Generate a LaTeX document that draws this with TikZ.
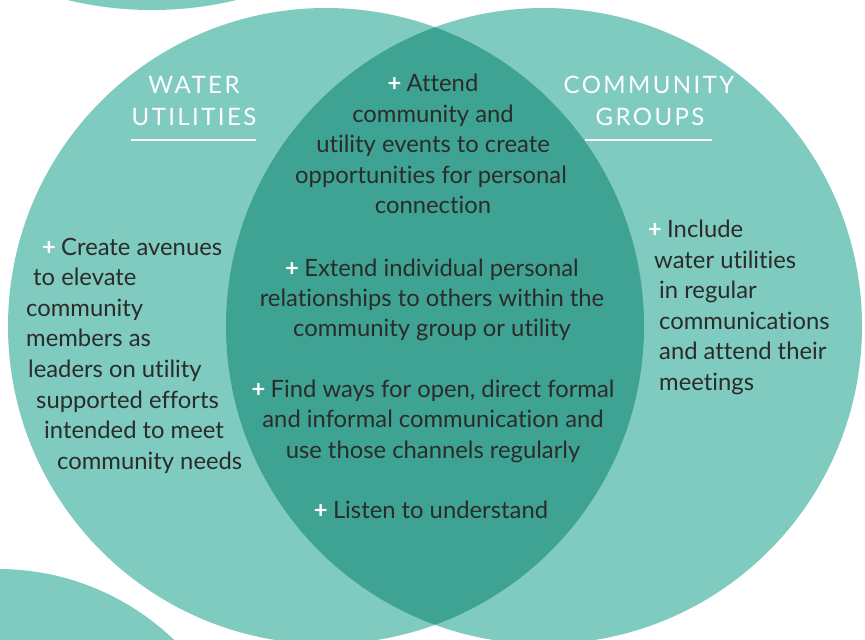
\documentclass[tikz,border=0pt]{standalone}
\usepackage{fontspec}
\setmainfont{Lato}[Ligatures=NoCommon]
\newfontfamily\titlefont[LetterSpace=10,Ligatures=NoCommon]{Lato}
\definecolor{lightteal}{HTML}{7FCBC0}
\definecolor{darkteal}{HTML}{3FA393}
\definecolor{ink}{HTML}{2B2B2A}
\tikzset{
  body/.style={inner sep=0pt, text=ink, font=\fontsize{23.8}{30}\selectfont},
  bodyc/.style={body, anchor=base},
  bodyl/.style={body, anchor=base west},
  title/.style={inner sep=0pt, anchor=base, text=white, font=\titlefont\fontsize{24}{30}\selectfont},
  rule/.style={draw=white, line width=1.6pt}
}
\newcommand{\plus}{{\color{white}\bfseries+}\hspace{0.22em}}
\begin{document}
\begin{tikzpicture}[x=1pt,y=-1pt]
\useasboundingbox (0,0) rectangle (865,640);
\begin{scope}
  \clip (0,0) rectangle (865,640);
  \fill[lightteal] (152,-350) circle[radius=360pt];
  \fill[lightteal] (-2,823) circle[radius=254pt];
  \fill[lightteal] (326,326) circle[radius=318pt];
  \fill[lightteal] (544,326) circle[radius=318pt];
  \begin{scope}
    \clip (326,326) circle[radius=318pt];
    \fill[darkteal] (544,326) circle[radius=318pt];
  \end{scope}
\end{scope}

% titles
\node[title] (wt1) at (194,93) {WATER};
\node[title] (wt2) at (194,125.5) {UTILITIES};
\coordinate (wl1) at (131,140);
\coordinate (wl2) at (256,140);
\draw[rule] (wl1) -- (wl2);
\node[title] (ct1) at (649,93) {COMMUNITY};
\node[title] (ct2) at (650,125.5) {GROUPS};
\coordinate (cl1) at (585,140);
\coordinate (cl2) at (712,140);
\draw[rule] (cl1) -- (cl2);

% centre
\node[bodyc] (a1) at (433,91) {\plus Attend};
\node[bodyc] (a2) at (433,122) {community and};
\node[bodyc] (a3) at (433,152.5) {utility events to create};
\node[bodyc] (a4) at (431,183) {opportunities for personal};
\node[bodyc] (a5) at (433,213.5) {connection};

\node[bodyc] (b1) at (432,276) {\plus Extend individual personal};
\node[bodyc] (b2) at (432,306) {relationships to others within the};
\node[bodyc] (b3) at (432,336.5) {community group or utility};

\node[bodyc] (c1) at (433,397) {\plus Find ways for open, direct formal};
\node[bodyc] (c2) at (433,427.5) {and informal communication and};
\node[bodyc] (c3) at (433,458) {use those channels regularly};

\node[bodyc] (d1) at (431,518) {\plus Listen to understand};

% left
\node[bodyl] (l1) at (42,255) {\plus Create avenues};
\node[bodyl] (l2) at (33,285.5) {to elevate};
\node[bodyl] (l3) at (26,316) {community};
\node[bodyl] (l4) at (26,346.5) {members as};
\node[bodyl] (l5) at (28,377) {leaders on utility};
\node[bodyl] (l6) at (36,408) {supported efforts};
\node[bodyl] (l7) at (44,438.5) {intended to meet};
\node[bodyl] (l8) at (57,469.5) {community needs};

% right
\node[bodyl] (r1) at (648,237) {\plus Include};
\node[bodyl] (r2) at (654,268) {water utilities};
\node[bodyl] (r3) at (659,298.5) {in regular};
\node[bodyl] (r4) at (659,329) {communications};
\node[bodyl] (r5) at (659,359.5) {and attend their};
\node[bodyl] (r6) at (659,390) {meetings};
\end{tikzpicture}
\end{document}
